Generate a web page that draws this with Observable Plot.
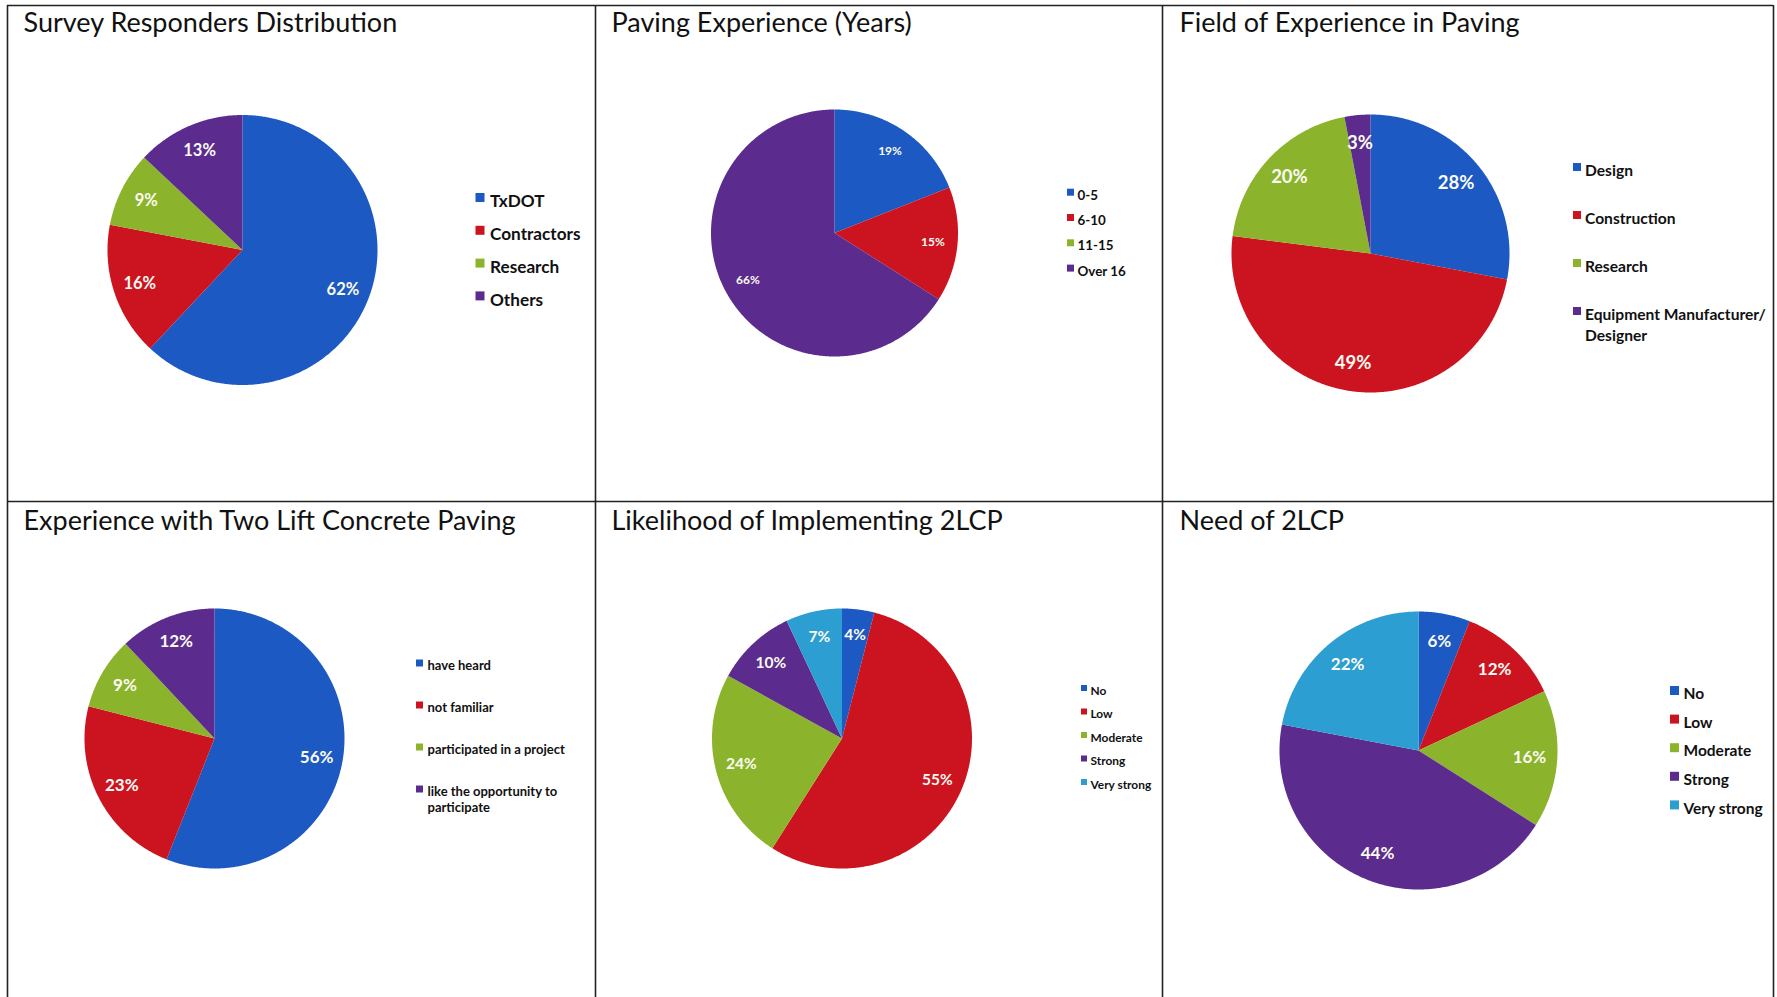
<!DOCTYPE html>
<html>
<head>
<meta charset="utf-8">
<script src="https://cdn.jsdelivr.net/npm/d3@7"></script>
<script src="https://cdn.jsdelivr.net/npm/@observablehq/plot@0.6"></script>
<style>
  html, body { margin: 0; padding: 0; background: #fff; }
  #chart svg { display: block; }
</style>
</head>
<body>
<div id="chart"></div>
<script>
// ---------- data ----------
const titles = [
  "Survey Responders Distribution",
  "Paving Experience (Years)",
  "Field of Experience in Paving",
  "Experience with Two Lift Concrete Paving",
  "Likelihood of Implementing 2LCP",
  "Need of 2LCP"
];
const surveyCategories = ["TxDOT", "Contractors", "Research", "Others"];
const surveyValues = [62, 16, 9, 13];
const yearsCategories = ["0-5", "6-10", "11-15", "Over 16"];
const yearsValues = [19, 15, 0, 66];
const fieldCategories = ["Design", "Construction", "Research", "Equipment Manufacturer/\nDesigner"];
const fieldValues = [28, 49, 20, 3];
const experienceCategories = ["have heard", "not familiar", "participated in a project", "like the opportunity to\nparticipate"];
const experienceValues = [56, 23, 9, 12];
const likelihoodCategories = ["No", "Low", "Moderate", "Strong", "Very strong"];
const likelihoodValues = [4, 55, 24, 10, 7];
const needCategories = ["No", "Low", "Moderate", "Strong", "Very strong"];
const needValues = [6, 12, 16, 44, 22];
const sliceKeys = ["s0", "s1", "s2", "s3", "s4"];
const palette = ["#1c59c2", "#cc1420", "#8bb42c", "#5b2c8e", "#2c9ed2"];

// ---------- layout (pixel positions of panels) ----------
const layout = [
  {tx: 23,   ty: 23,  cx: 242,  cy: 249.5, r: 135,   lab: 16.5, lx: 479.5, ly: 197,   step: 32.8, lfs: 17.2, sw: 9,   gap: 10,  lh: 1.3},
  {tx: 611,  ty: 23,  cx: 834,  cy: 232.5, r: 123.5, lab: 12,   lx: 1070,  ly: 191.7, step: 25.3, lfs: 13.4, sw: 7,   gap: 7,   lh: 1.3},
  {tx: 1179, ty: 23,  cx: 1370, cy: 253,   r: 139,   lab: 18.5, lx: 1576.5, ly: 166.5, step: 48, lfs: 15.6, sw: 8,   gap: 8,   lh: 1.32},
  {tx: 23,   ty: 521, cx: 214,  cy: 738,   r: 130,   lab: 17,   lx: 419,   ly: 662.5, step: 42,   lfs: 13,   sw: 7,   gap: 8,   lh: 1.25},
  {tx: 611,  ty: 521, cx: 841.5, cy: 738,  r: 130,   lab: 15.5, lx: 1083.5, ly: 687.5, step: 23.5, lfs: 11.9, sw: 6,  gap: 6.5, lh: 1.3},
  {tx: 1179, ty: 521, cx: 1418, cy: 750,   r: 139,   lab: 17,   lx: 1674,  ly: 690,   step: 28.6, lfs: 15.5, sw: 9,   gap: 9,   lh: 1.3}
];
const panelData = [
  [surveyCategories, surveyValues],
  [yearsCategories, yearsValues],
  [fieldCategories, fieldValues],
  [experienceCategories, experienceValues],
  [likelihoodCategories, likelihoodValues],
  [needCategories, needValues]
];

// ---------- build marks ----------
const slicePts = [], labels = [], legendItems = [], titleRows = [];
panelData.forEach(([cats, vals], p) => {
  const L = layout[p];
  titleRows.push({x: L.tx, y: L.ty, text: titles[p]});
  const arcs = d3.pie().sort(null).value(d => d)(vals);
  arcs.forEach((a, i) => {
    const key = sliceKeys[i];
    legendItems.push({p, x: L.lx, y: L.ly + i * L.step, key, text: cats[i], fs: L.lfs, sw: L.sw, gap: L.gap, lh: L.lh});
    if (vals[i] <= 0) return;
    const id = p + "-" + i;
    slicePts.push({id, key, x: L.cx, y: L.cy});
    const n = Math.max(2, Math.ceil((a.endAngle - a.startAngle) / (Math.PI / 360)));
    for (let k = 0; k <= n; k++) {
      const t = a.startAngle + (a.endAngle - a.startAngle) * k / n;
      slicePts.push({id, key, x: L.cx + L.r * Math.sin(t), y: L.cy - L.r * Math.cos(t)});
    }
    slicePts.push({id, key, x: L.cx, y: L.cy});
    const mid = (a.startAngle + a.endAngle) / 2;
    labels.push({x: L.cx + 0.8 * L.r * Math.sin(mid), y: L.cy - 0.8 * L.r * Math.cos(mid), text: vals[i] + "%", fs: L.lab});
  });
});

const marks = [
  Plot.line(slicePts, {x: "x", y: "y", z: "id", fill: "key", stroke: "none", curve: "linear"})
];
// slice labels, one text mark per font size
d3.groups(labels, d => d.fs).forEach(([fs, rows]) => {
  marks.push(Plot.text(rows, {x: "x", y: "y", text: "text", fill: "#fbfbf4", fontSize: fs, fontWeight: "bold"}));
});
// legends
d3.groups(legendItems, d => d.p).forEach(([p, rows]) => {
  const r0 = rows[0];
  marks.push(Plot.dot(rows, {x: "x", y: "y", fill: "key", symbol: "square", r: r0.sw / Math.sqrt(Math.PI), stroke: "none"}));
  marks.push(Plot.text(rows, {x: "x", y: "y", text: "text", dx: r0.gap, dy: -0.36 * r0.fs, textAnchor: "start", lineAnchor: "top",
    lineHeight: r0.lh, fontSize: r0.fs, fontWeight: "bold", fill: "#111"}));
});
// titles
marks.push(Plot.text(titleRows, {x: "x", y: "y", text: "text", textAnchor: "start", lineAnchor: "middle", fontSize: 27, fill: "#111"}));
// panel frame
marks.push(Plot.ruleX([7, 595, 1162, 1773], {y1: 5, y2: 997, stroke: "#222", strokeWidth: 1.6}));
marks.push(Plot.ruleY([5, 501], {x1: 7, x2: 1773, stroke: "#222", strokeWidth: 1.6}));

const chart = Plot.plot({
  width: 1777,
  height: 997,
  margin: 0,
  x: {type: "identity", axis: null},
  y: {type: "identity", axis: null},
  color: {type: "ordinal", domain: sliceKeys, range: palette},
  style: {fontFamily: "Lato, 'Open Sans', sans-serif", background: "#fff"},
  marks
});
document.getElementById("chart").appendChild(chart);
</script>
</body>
</html>
